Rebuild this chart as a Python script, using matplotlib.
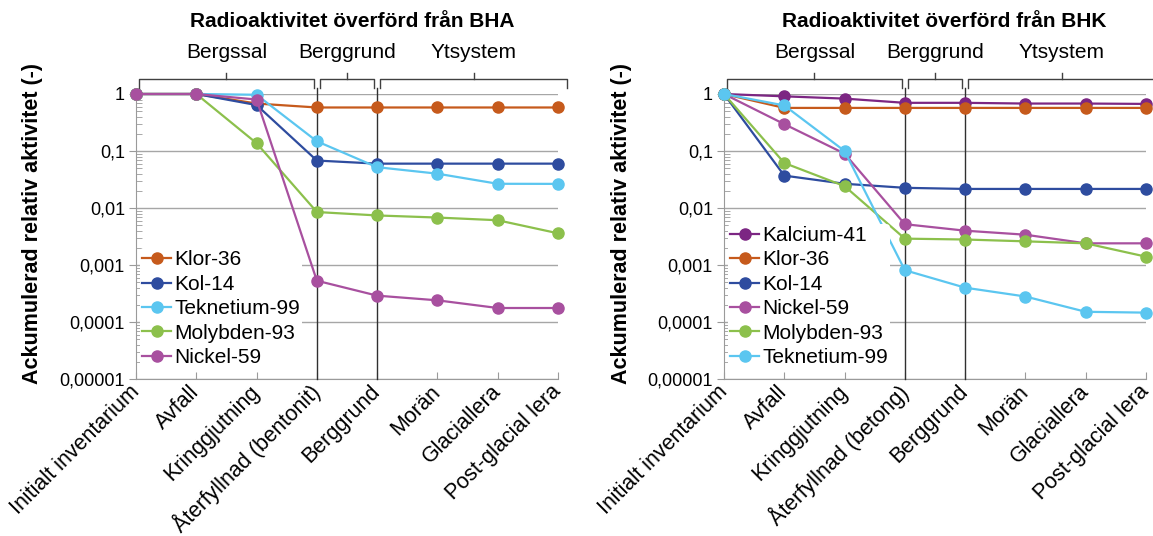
import numpy as np
import matplotlib
matplotlib.use('Agg')
import matplotlib.pyplot as plt
import matplotlib.transforms as mtransforms
from matplotlib.ticker import FixedLocator, LogLocator, NullFormatter

plt.rcParams['font.family'] = ['Liberation Sans', 'DejaVu Sans']

"""-------------------------------- Data -----------------------------------------------"""

cats_bha = ['Initialt inventarium', 'Avfall', 'Kringgjutning', 'Återfyllnad (bentonit)',
            'Berggrund', 'Morän', 'Glaciallera', 'Post-glacial lera']
cats_bhk = ['Initialt inventarium', 'Avfall', 'Kringgjutning', 'Återfyllnad (betong)',
            'Berggrund', 'Morän', 'Glaciallera', 'Post-glacial lera']

# BHA
bha_klor36 = [1, 1, 0.68, 0.58, 0.58, 0.58, 0.58, 0.58]
bha_kol14 = [1, 1, 0.64, 0.068, 0.06, 0.06, 0.06, 0.06]
bha_tek99 = [1, 1, 0.97, 0.148, 0.052, 0.04, 0.0266, 0.0265]
bha_mol93 = [1, 1, 0.137, 0.0085, 0.0074, 0.0068, 0.0061, 0.0036]
bha_nic59 = [1, 1, 0.8, 0.00053, 0.00029, 0.00024, 0.000176, 0.000176]

# BHK
bhk_kal41 = [1, 0.91, 0.83, 0.70, 0.70, 0.68, 0.68, 0.67]
bhk_klor36 = [1, 0.57, 0.57, 0.57, 0.57, 0.57, 0.57, 0.57]
bhk_kol14 = [1, 0.037, 0.0266, 0.0226, 0.0216, 0.0216, 0.0216, 0.0216]
bhk_nic59 = [1, 0.296, 0.09, 0.0052, 0.004, 0.0034, 0.0024, 0.0024]
bhk_mol93 = [1, 0.0616, 0.0242, 0.0029, 0.0028, 0.0026, 0.0024, 0.0014]
bhk_tek99 = [1, 0.63, 0.1, 0.00081, 0.0004, 0.00028, 0.000151, 0.000146]

ytick_vals = [1e-5, 1e-4, 1e-3, 1e-2, 1e-1, 1]
ytick_labels = ['0,00001', '0,0001', '0,001', '0,01', '0,1', '1']

sections = ['Bergssal', 'Berggrund', 'Ytsystem']

col_klor = '#C65A1C'
col_kol = '#2E4C9F'
col_tek = '#5BC6F0'
col_mol = '#8CC04C'
col_nic = '#A8509F'
col_kal = '#7C2683'

"""-------------------------------- Subroutines-----------------------------------------"""

def draw_panel(ax, cats, series, title, title_x):
    x = np.arange(len(cats))
    for vals, lab, col in series:
        ax.plot(x, vals, '-o', color=col, lw=1.6, ms=8, label=lab, clip_on=False, zorder=5)

    ax.set_yscale('log')
    ax.set_ylim(1e-5, 1)
    ax.set_xlim(0, len(cats) - 1)
    ax.yaxis.set_major_locator(FixedLocator(ytick_vals))
    ax.set_yticklabels(ytick_labels)
    ax.yaxis.set_minor_locator(LogLocator(base=10, subs=np.arange(2, 10)))
    ax.yaxis.set_minor_formatter(NullFormatter())
    ax.grid(axis='y', which='major', color='#a6a6a6', lw=1)
    ax.set_axisbelow(True)

    ax.set_xticks(x)
    ax.set_xticklabels(cats, rotation=45, ha='right', va='center', rotation_mode='anchor')

    for s in ['top', 'right']:
        ax.spines[s].set_visible(False)
    for s in ['left', 'bottom']:
        ax.spines[s].set_color('#9a9a9a')
    ax.tick_params(axis='y', which='major', direction='out', length=5, color='#9a9a9a',
                   labelsize=13, pad=3)
    ax.tick_params(axis='y', which='minor', direction='in', length=4, color='#9a9a9a')
    ax.tick_params(axis='x', direction='in', length=5, color='#9a9a9a', labelsize=15.5, pad=7)

    # vertical separators
    for xv in [3, 4]:
        ax.axvline(xv, ymin=0, ymax=1.021, color='#303030', lw=1, clip_on=False, zorder=3)

    # brackets
    trans = mtransforms.blended_transform_factory(ax.transData, ax.transAxes)
    spans = [(0, 3), (3, 4), (4, 7.2)]
    for (x0, x1), name in zip(spans, sections):
        xm = (x0 + x1) / 2.0
        ax.plot([x0 + 0.05, x0 + 0.05, x1 - 0.05, x1 - 0.05], [1.021, 1.0526, 1.0526, 1.021],
                color='#404040', lw=1, transform=trans, clip_on=False)
        ax.plot([xm, xm], [1.0526, 1.074], color='#404040', lw=1, transform=trans, clip_on=False)
        ax.text(xm, 1.144, name, transform=trans, ha='center', va='center', fontsize=15)

    ax.text(title_x, 1.253, title, transform=trans, ha='center', va='center',
            fontsize=15, fontweight='bold')

    leg = ax.legend(loc='lower left', bbox_to_anchor=(0.0, 0.02), fontsize=15, frameon=True,
                    handlelength=1.4, handletextpad=0.15, labelspacing=0.26,
                    borderpad=0.1, borderaxespad=0.2)
    leg.get_frame().set_facecolor('white')
    leg.get_frame().set_edgecolor('none')
    leg.get_frame().set_alpha(1)
    leg.set_zorder(6)


"""-------------------------------- Main -----------------------------------------------"""

fig = plt.figure(figsize=(11.53, 5.36), dpi=100)
ax1 = fig.add_axes([136 / 1153, 1 - 379 / 536, 422 / 1153, 285 / 536])
ax2 = fig.add_axes([724 / 1153, 1 - 379 / 536, 422 / 1153, 285 / 536])

draw_panel(ax1, cats_bha, [(bha_klor36, 'Klor-36', col_klor),
                           (bha_kol14, 'Kol-14', col_kol),
                           (bha_tek99, 'Teknetium-99', col_tek),
                           (bha_mol93, 'Molybden-93', col_mol),
                           (bha_nic59, 'Nickel-59', col_nic)],
           'Radioaktivitet överförd från BHA', 3.58)

draw_panel(ax2, cats_bhk, [(bhk_kal41, 'Kalcium-41', col_kal),
                           (bhk_klor36, 'Klor-36', col_klor),
                           (bhk_kol14, 'Kol-14', col_kol),
                           (bhk_nic59, 'Nickel-59', col_nic),
                           (bhk_mol93, 'Molybden-93', col_mol),
                           (bhk_tek99, 'Teknetium-99', col_tek)],
           'Radioaktivitet överförd från BHK', 3.65)

for xl in [33, 621]:
    fig.text(xl / 1153, 1 - 224 / 536, 'Ackumulerad relativ aktivitet (-)', rotation=90,
             ha='center', va='center', fontsize=15.5, fontweight='bold')

fig.savefig('out.png', dpi=100)
